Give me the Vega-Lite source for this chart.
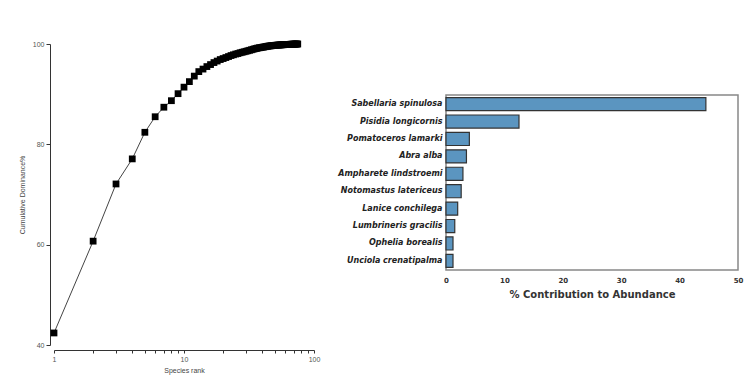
{
  "$schema": "https://vega.github.io/schema/vega-lite/v6.json",
  "background": "white",
  "padding": {"left": 18, "top": 40, "right": 5, "bottom": 5},
  "config": {"font": "Liberation Sans"},
  "datasets": {
    "rank": [
      {"rank": 1, "cum": 42.4}, {"rank": 2, "cum": 60.7}, {"rank": 3, "cum": 72.1}, {"rank": 4, "cum": 77.1},
      {"rank": 5, "cum": 82.4}, {"rank": 6, "cum": 85.5}, {"rank": 7, "cum": 87.4}, {"rank": 8, "cum": 88.7},
      {"rank": 9, "cum": 90.1}, {"rank": 10, "cum": 91.4}, {"rank": 11, "cum": 92.5}, {"rank": 12, "cum": 93.6},
      {"rank": 13, "cum": 94.5}, {"rank": 14, "cum": 95.0}, {"rank": 15, "cum": 95.5}, {"rank": 16, "cum": 95.9},
      {"rank": 17, "cum": 96.3}, {"rank": 18, "cum": 96.6}, {"rank": 19, "cum": 96.9}, {"rank": 20, "cum": 97.1},
      {"rank": 21, "cum": 97.3}, {"rank": 22, "cum": 97.5}, {"rank": 23, "cum": 97.7}, {"rank": 24, "cum": 97.85},
      {"rank": 25, "cum": 98.0}, {"rank": 26, "cum": 98.1}, {"rank": 27, "cum": 98.25}, {"rank": 28, "cum": 98.35},
      {"rank": 29, "cum": 98.45}, {"rank": 30, "cum": 98.55}, {"rank": 31, "cum": 98.65}, {"rank": 32, "cum": 98.75},
      {"rank": 33, "cum": 98.85}, {"rank": 34, "cum": 98.95}, {"rank": 35, "cum": 99.05}, {"rank": 36, "cum": 99.1},
      {"rank": 37, "cum": 99.2}, {"rank": 38, "cum": 99.25}, {"rank": 39, "cum": 99.3}, {"rank": 40, "cum": 99.35},
      {"rank": 41, "cum": 99.4}, {"rank": 42, "cum": 99.45}, {"rank": 43, "cum": 99.5}, {"rank": 44, "cum": 99.55},
      {"rank": 45, "cum": 99.6}, {"rank": 46, "cum": 99.62}, {"rank": 47, "cum": 99.65}, {"rank": 48, "cum": 99.68},
      {"rank": 49, "cum": 99.7}, {"rank": 50, "cum": 99.73}, {"rank": 51, "cum": 99.75}, {"rank": 52, "cum": 99.77},
      {"rank": 53, "cum": 99.79}, {"rank": 54, "cum": 99.8}, {"rank": 55, "cum": 99.82}, {"rank": 56, "cum": 99.83},
      {"rank": 57, "cum": 99.85}, {"rank": 58, "cum": 99.86}, {"rank": 59, "cum": 99.87}, {"rank": 60, "cum": 99.88},
      {"rank": 61, "cum": 99.89}, {"rank": 62, "cum": 99.9}, {"rank": 63, "cum": 99.91}, {"rank": 64, "cum": 99.92},
      {"rank": 65, "cum": 99.93}, {"rank": 66, "cum": 99.94}, {"rank": 67, "cum": 99.95}, {"rank": 68, "cum": 99.96},
      {"rank": 69, "cum": 99.97}, {"rank": 70, "cum": 99.97}, {"rank": 71, "cum": 99.98}, {"rank": 72, "cum": 99.99},
      {"rank": 73, "cum": 99.99}, {"rank": 74, "cum": 100}, {"rank": 75, "cum": 100}
    ],
    "bars": [
      {"species": "Sabellaria spinulosa", "pct": 44.5},
      {"species": "Pisidia longicornis", "pct": 12.5},
      {"species": "Pomatoceros lamarki", "pct": 4.0},
      {"species": "Abra alba", "pct": 3.5},
      {"species": "Ampharete lindstroemi", "pct": 2.9},
      {"species": "Notomastus latericeus", "pct": 2.6},
      {"species": "Lanice conchilega", "pct": 2.0},
      {"species": "Lumbrineris gracilis", "pct": 1.5},
      {"species": "Ophelia borealis", "pct": 1.2},
      {"species": "Unciola crenatipalma", "pct": 1.2}
    ],
    "spacer": [{"s": 0}]
  },
  "spacing": 17,
  "hconcat": [
    {
      "width": 260,
      "height": 301,
      "data": {"name": "rank"},
      "view": {"stroke": null},
      "encoding": {
        "x": {
          "field": "rank", "type": "quantitative",
          "scale": {"type": "log", "domain": [1, 100], "nice": false},
          "axis": {
            "values": [1, 2, 3, 4, 5, 6, 7, 8, 9, 10, 20, 30, 40, 50, 60, 70, 80, 90, 100],
            "format": "d",
            "labelExpr": "datum.value == 1 || datum.value == 10 || datum.value == 100 ? datum.label : ''",
            "labelOverlap": false, "labelFlush": false,
            "grid": false, "offset": 5, "tickSize": 3,
            "domainColor": "#333", "tickColor": "#333",
            "labelFontSize": 7, "labelColor": "#555", "labelPadding": 2,
            "title": "Species rank", "titleFontSize": 7, "titleFontWeight": "normal",
            "titleColor": "#444", "titlePadding": 4
          }
        },
        "y": {
          "field": "cum", "type": "quantitative",
          "scale": {"domain": [40, 100], "nice": false, "zero": false},
          "axis": {
            "values": [40, 60, 80, 100],
            "grid": false, "offset": 4, "tickSize": 4, "labelFlush": false,
            "domainColor": "#333", "tickColor": "#333",
            "labelFontSize": 7, "labelColor": "#555", "labelPadding": 2,
            "title": "Cumulative Dominance%", "titleFontSize": 7, "titleFontWeight": "normal",
            "titleColor": "#444", "titlePadding": 7
          }
        }
      },
      "layer": [
        {"mark": {"type": "line", "color": "#444", "strokeWidth": 1}},
        {"mark": {"type": "point", "shape": "square", "filled": true, "color": "black", "size": 46, "opacity": 1}}
      ]
    },
    {
      "spacing": 20,
      "vconcat": [
        {
          "width": 292,
          "height": 30,
          "data": {"name": "spacer"},
          "view": {"stroke": null},
          "mark": {"type": "point", "opacity": 0},
          "encoding": {}
        },
        {
          "width": 292,
          "height": 175,
          "data": {"name": "bars"},
          "view": {"stroke": "#888", "strokeWidth": 1.5},
          "mark": {"type": "bar", "color": "#5b95c0", "stroke": "#333", "strokeWidth": 1.2},
          "encoding": {
            "y": {
              "field": "species", "type": "nominal", "sort": null,
              "scale": {"paddingInner": 0.25, "paddingOuter": 0.15},
              "axis": {
                "title": null, "domain": false, "ticks": false,
                "labelFont": "DejaVu Sans", "labelFontWeight": "bold", "labelFontStyle": "italic",
                "labelFontSize": 8, "labelColor": "#222", "labelPadding": 4,
                "minExtent": 105, "maxExtent": 105, "labelLimit": 0
              }
            },
            "x": {
              "field": "pct", "type": "quantitative",
              "scale": {"domain": [0, 50], "nice": false},
              "axis": {
                "values": [0, 10, 20, 30, 40, 50], "grid": false, "domain": false, "ticks": false,
                "labelFlush": false,
                "labelFont": "DejaVu Sans", "labelFontWeight": "bold", "labelFontSize": 7,
                "labelColor": "#333", "labelPadding": 6,
                "title": "% Contribution to Abundance", "titleFont": "DejaVu Sans",
                "titleFontSize": 10, "titleFontWeight": "bold", "titleColor": "#333", "titlePadding": 6
              }
            }
          }
        }
      ]
    }
  ]
}
